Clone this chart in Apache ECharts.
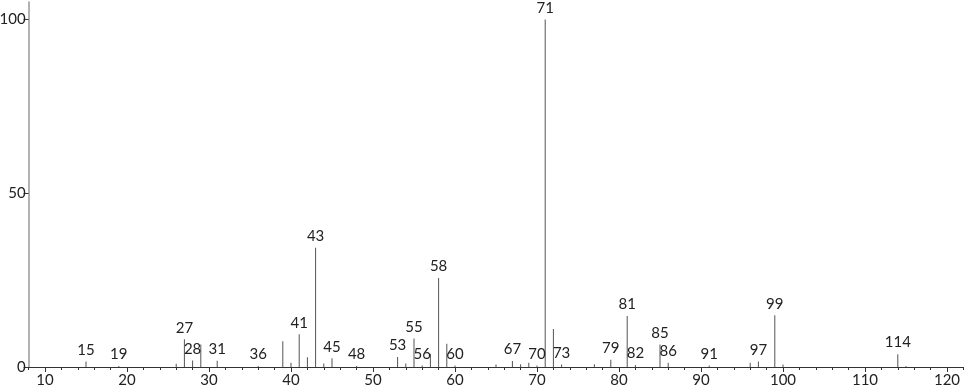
<!DOCTYPE html>
<html><head><meta charset="utf-8">
<script src="https://cdn.jsdelivr.net/npm/echarts@6/dist/echarts.min.js"></script>
<style>html,body{margin:0;padding:0;background:#fff}#c{width:966px;height:389px}</style>
</head><body><div id="c"></div>
<script>
const masses = [15,19,26,27,28,29,31,36,39,40,41,42,43,44,45,48,53,54,55,56,57,58,59,60,65,67,68,69,70,71,72,73,77,79,81,82,85,86,91,96,97,99,100,114,115];
const intensities = [1.6,0.3,0.9,8.0,1.9,6.5,1.8,0.3,7.4,1.2,9.4,2.8,34.3,1.0,2.5,0.3,2.9,1.0,8.2,0.4,3.8,25.6,6.7,0.4,0.7,1.7,0.8,1.2,0.4,100,10.9,0.7,0.8,2.1,14.7,0.6,6.5,1.2,0.4,1.2,1.6,14.9,0.7,3.7,0.3];
const labeledMasses = [15,19,27,28,31,36,41,43,45,48,53,55,56,58,60,67,70,71,73,79,81,82,85,86,91,97,99,114];
const xMajorTicks = [10,20,30,40,50,60,70,80,90,100,110,120];
const xMinorTicks = [];
for (let v = 8; v <= 122; v += 2) xMinorTicks.push(v);
const yTicks = [0,50,100];

const font = 'Lato, "DejaVu Sans", sans-serif';
const data = masses.map((m, i) => ({
  value: [m, intensities[i]],
  label: { show: labeledMasses.includes(m) }
}));

const chart = echarts.init(document.getElementById('c'));
chart.setOption({
  animation: false,
  grid: { left: 28.6, right: 2.6, top: 2, bottom: 22, containLabel: false, outerBoundsMode: 'none' },
  xAxis: [{
    type: 'value', min: 8, max: 122, position: 'bottom',
    axisLine: { show: true, onZero: false, lineStyle: { color: '#333', width: 1 } },
    axisTick: { show: true, customValues: xMajorTicks, length: 5, lineStyle: { color: '#333' } },
    axisLabel: { customValues: xMajorTicks, fontFamily: font, fontSize: 15, color: '#222', margin: 6 },
    splitLine: { show: false }
  }, {
    type: 'value', min: 8, max: 122, position: 'bottom',
    axisLine: { show: false, onZero: false },
    axisTick: { show: true, customValues: xMinorTicks, length: 3, lineStyle: { color: '#333' } },
    axisLabel: { show: false },
    splitLine: { show: false }
  }],
  yAxis: {
    type: 'value', min: 0, max: 105,
    axisLine: { show: true, lineStyle: { color: '#999', width: 1.5 } },
    axisTick: { show: true, customValues: yTicks, length: 5, lineStyle: { color: '#333' } },
    axisLabel: { customValues: yTicks, fontFamily: font, fontSize: 15, color: '#222', margin: 3 },
    splitLine: { show: false }
  },
  series: [{
    type: 'bar', xAxisIndex: 0, barWidth: 1,
    itemStyle: { color: '#555' },
    label: { position: 'top', distance: 4, fontFamily: font, fontSize: 15, color: '#222',
      formatter: p => String(p.value[0]) },
    data: data
  }]
});
</script></body></html>
